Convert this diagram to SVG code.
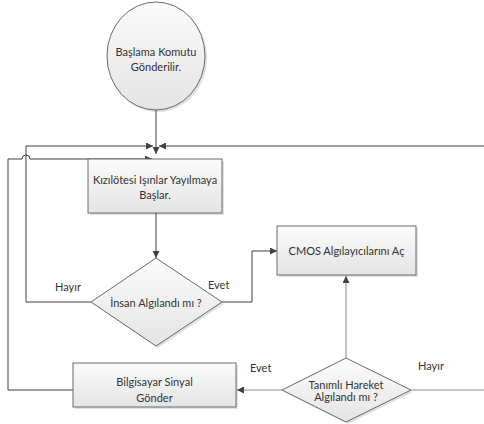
<svg xmlns="http://www.w3.org/2000/svg" width="484" height="424" viewBox="0 0 484 424">
<defs>
<linearGradient id="g" x1="0" y1="0" x2="0" y2="1">
<stop offset="0" stop-color="#fbfbfb"/>
<stop offset="1" stop-color="#e4e4e4"/>
</linearGradient>
<marker id="ah" viewBox="0 0 10 10" refX="10" refY="5" markerWidth="7" markerHeight="7" markerUnits="userSpaceOnUse" orient="auto">
<path d="M0,0 L10,5 L0,10 z" fill="#404040"/>
</marker>
</defs>
<style>
.shape{fill:url(#g);stroke:#6a6a6a;stroke-width:1}
.shadow{fill:#000;opacity:0.12}
.t{font-family:Lato,"Open Sans","Liberation Sans",sans-serif;font-size:11px;fill:#333;text-anchor:middle}
.lbl{font-family:Lato,"Open Sans","Liberation Sans",sans-serif;font-size:11px;fill:#333}
.c{fill:none;stroke:#404040;stroke-width:1}
.cl{fill:none;stroke:#8a8a8a;stroke-width:1}
</style>
<rect width="484" height="424" fill="#fff"/>
<g id="connectors">
<path class="c" d="M156,110 V154" marker-end="url(#ah)"/>
<path class="c" d="M26,302 V146 H153" marker-end="url(#ah)"/>
<path class="c" d="M484,146 H159" marker-end="url(#ah)"/>
<path class="c" d="M73,390 H8 V159 H22 A4,4 0 0 1 30,159 H152" marker-end="url(#ah)"/>
<path class="c" d="M156,213 V258" marker-end="url(#ah)"/>
<path class="c" d="M91,302 H26"/>
<path class="c" d="M222,302 H252 V251 H277" marker-end="url(#ah)"/>
<path class="cl" d="M346,358 V276" marker-end="url(#ah)"/>
<path class="cl" d="M411,390 H484"/>
<path class="cl" d="M282,390 H237" marker-end="url(#ah)"/>
<text class="lbl" x="55" y="291">Hayır</text>
<text class="lbl" x="208" y="289">Evet</text>
<text class="lbl" x="250" y="372">Evet</text>
<text class="lbl" x="418" y="370">Hayır</text>
</g>
<g id="start">
<ellipse class="shadow" cx="158" cy="58" rx="49" ry="54"/>
<ellipse class="shape" cx="156" cy="56" rx="49" ry="54"/>
<text class="t" x="156" y="56">Başlama Komutu</text>
<text class="t" x="156" y="71">Gönderilir.</text>
</g>
<g id="kizilotesi">
<rect class="shadow" x="90" y="161" width="134" height="54"/>
<rect class="shape" x="88" y="159" width="134" height="54"/>
<text class="t" x="155" y="184">Kızılötesi Işınlar Yayılmaya</text>
<text class="t" x="155" y="199">Başlar.</text>
</g>
<g id="insan">
<path class="shadow" d="M158,260 L224,304 L158,348 L93,304 z"/>
<path class="shape" d="M156,258 L222,302 L156,346 L91,302 z"/>
<text class="t" x="156" y="307">İnsan Algılandı mı ?</text>
</g>
<g id="cmos">
<rect class="shadow" x="279" y="228" width="139" height="49"/>
<rect class="shape" x="277" y="226" width="139" height="49"/>
<text class="t" x="346.5" y="255">CMOS Algılayıcılarını Aç</text>
</g>
<g id="tanimli">
<path class="shadow" d="M348,360 L413,392 L348,424 L284,392 z"/>
<path class="shape" d="M346,358 L411,390 L346,422 L282,390 z"/>
<text class="t" x="346" y="389">Tanımlı Hareket</text>
<text class="t" x="346" y="401">Algılandı mı ?</text>
</g>
<g id="bilgisayar">
<rect class="shadow" x="75" y="365" width="163" height="44"/>
<rect class="shape" x="73" y="363" width="163" height="44"/>
<text class="t" x="154.5" y="386">Bilgisayar Sinyal</text>
<text class="t" x="154.5" y="402">Gönder</text>
</g>
</svg>
